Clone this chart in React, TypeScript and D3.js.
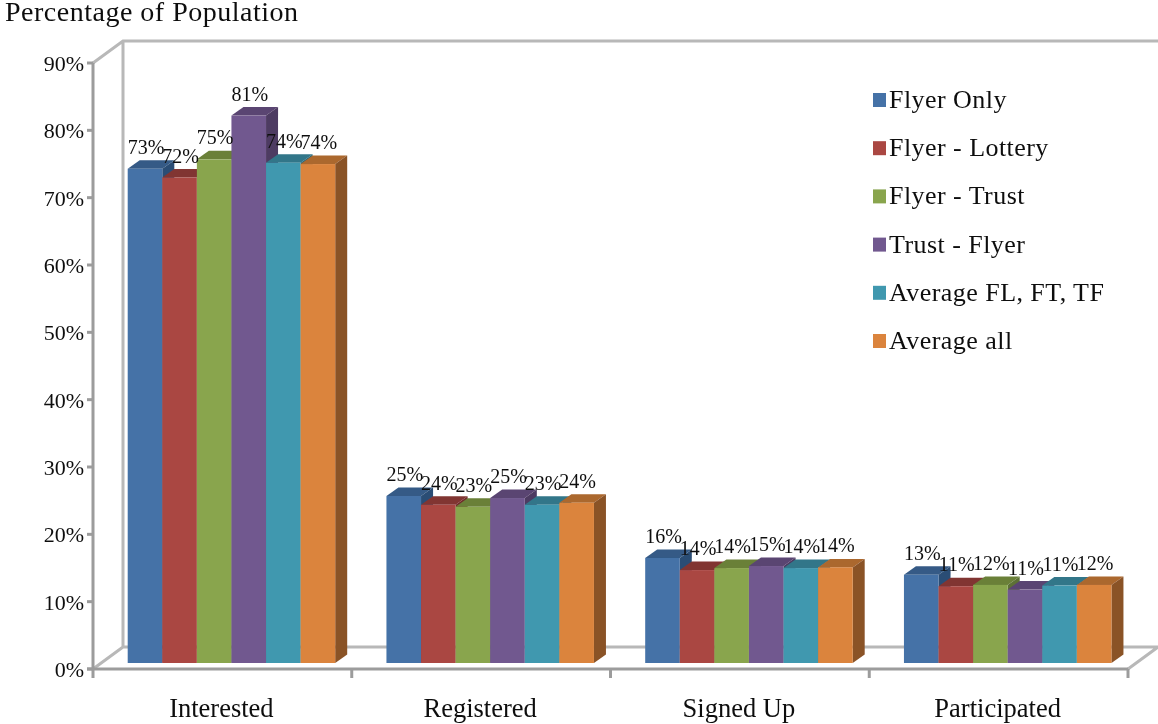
import React, { useRef, useEffect } from 'react';
import * as d3 from 'd3';

const categories = ['Interested', 'Registered', 'Signed Up', 'Participated'];
const seriesNames = ['Flyer Only', 'Flyer - Lottery', 'Flyer - Trust', 'Trust - Flyer', 'Average FL, FT, TF', 'Average all'];

// one row per series, one value per category
const flyerOnly = [73.4, 24.8, 15.6, 13.1];
const flyerLottery = [72.1, 23.5, 13.8, 11.4];
const flyerTrust = [74.8, 23.2, 14.1, 11.6];
const trustFlyer = [81.3, 24.5, 14.4, 10.9];
const averageFlTf = [74.3, 23.5, 14.1, 11.5];
const averageAll = [74.1, 23.8, 14.2, 11.6];
const seriesValues = [flyerOnly, flyerLottery, flyerTrust, trustFlyer, averageFlTf, averageAll];

// labels as printed on the chart
const flyerOnlyLabels = ['73%', '25%', '16%', '13%'];
const flyerLotteryLabels = ['72%', '24%', '14%', '11%'];
const flyerTrustLabels = ['75%', '23%', '14%', '12%'];
const trustFlyerLabels = ['81%', '25%', '15%', '11%'];
const averageFlTfLabels = ['74%', '23%', '14%', '11%'];
const averageAllLabels = ['74%', '24%', '14%', '12%'];
const seriesLabels = [flyerOnlyLabels, flyerLotteryLabels, flyerTrustLabels, trustFlyerLabels, averageFlTfLabels, averageAllLabels];

const yTicks = [0, 10, 20, 30, 40, 50, 60, 70, 80, 90];

const frontColors = ['#4572a7', '#aa4643', '#89a54e', '#71588f', '#4198af', '#db843d'];
const topColors = ['#345a86', '#813533', '#6a8039', '#5a4572', '#317689', '#ab672f'];
const sideColors = ['#2c4d74', '#722c2a', '#5d7134', '#4d3a62', '#296779', '#8a5227'];

const serif = '"Liberation Serif", "Times New Roman", serif';

const App: React.FC = () => {
  const ref = useRef<SVGSVGElement | null>(null);

  useEffect(() => {
    if (!ref.current) return;
    const svg = d3.select(ref.current);
    svg.selectAll('*').remove();

    const left = 93;
    const right = 1128;
    const bottom = 669;
    const top = 63;
    // 3d look: how far the back wall and the bars are pushed
    const wallDx = 30;
    const wallDy = -22;
    const barDx = 12;
    const barDy = -8.5;
    const barBaseShift = -6;

    const y = d3.scaleLinear().domain([0, 90]).range([bottom, top]);
    const x0 = d3.scaleBand<string>().domain(categories).range([left, right]);
    const x1 = d3.scaleBand<number>().domain(d3.range(seriesNames.length)).range([34.7, 242.2]);

    const defs = svg.append('defs');
    defs.append('filter').attr('id', 'soft')
      .append('feGaussianBlur').attr('stdDeviation', 0.5);

    const root = svg.append('g').attr('filter', 'url(#soft)');

    // Back wall and floor
    const wall = root.append('g').attr('fill', 'none').attr('stroke', '#b8b8b8').attr('stroke-width', 3);
    const wallPath = d3.path();
    wallPath.moveTo(left, y(90));
    wallPath.lineTo(left + wallDx, y(90) + wallDy);
    wallPath.lineTo(1158, y(90) + wallDy);
    wallPath.moveTo(left + wallDx, y(90) + wallDy);
    wallPath.lineTo(left + wallDx, bottom + wallDy);
    wallPath.lineTo(right + wallDx, bottom + wallDy);
    wallPath.lineTo(right, bottom);
    wallPath.moveTo(left + wallDx, bottom + wallDy);
    wallPath.lineTo(left, bottom);
    wall.append('path').attr('d', wallPath.toString());

    // Front axes
    const axes = root.append('g').attr('fill', 'none').attr('stroke', '#9c9c9c').attr('stroke-width', 3);
    axes.append('line').attr('x1', left).attr('x2', left).attr('y1', top).attr('y2', bottom + 9);
    axes.append('line').attr('x1', left - 6).attr('x2', right).attr('y1', bottom).attr('y2', bottom);
    axes.selectAll('.ytick').data(yTicks).join('line')
      .attr('x1', left - 6).attr('x2', left).attr('y1', d => y(d)).attr('y2', d => y(d));
    axes.selectAll('.xtick').data(categories).join('line')
      .attr('x1', d => x0(d)! + x0.bandwidth()).attr('x2', d => x0(d)! + x0.bandwidth())
      .attr('y1', bottom).attr('y2', bottom + 9);

    root.selectAll('.ylabel').data(yTicks).join('text')
      .attr('x', 84).attr('y', d => y(d) + 8)
      .attr('text-anchor', 'end')
      .attr('font-family', serif).attr('font-size', 22)
      .attr('fill', '#111')
      .text(d => `${d}%`);

    root.selectAll('.xlabel').data(categories).join('text')
      .attr('x', d => x0(d)! + x0.bandwidth() / 2 - 1)
      .attr('y', 717)
      .attr('text-anchor', 'middle')
      .attr('font-family', serif).attr('font-size', 26.5)
      .attr('fill', '#111')
      .text(d => d);

    // Bars, left to right so each front face covers its neighbour's side
    const bars = root.append('g');
    categories.forEach((cat, c) => {
      seriesNames.forEach((_, s) => {
        const bx = x0(cat)! + x1(s)!;
        const bw = x1.bandwidth();
        const by = y(seriesValues[s][c]) + barBaseShift;
        const base = y(0) + barBaseShift;
        const g = bars.append('g');
        g.append('path')
          .attr('d', `M${bx},${by}l${barDx},${barDy}h${bw}l${-barDx},${-barDy}Z`)
          .attr('fill', topColors[s]);
        g.append('path')
          .attr('d', `M${bx + bw},${by}l${barDx},${barDy}V${base + barDy}l${-barDx},${-barDy}Z`)
          .attr('fill', sideColors[s]);
        g.append('rect')
          .attr('x', bx).attr('y', by).attr('width', bw).attr('height', base - by)
          .attr('fill', frontColors[s]);
      });
    });

    // Data labels sit above everything
    const labels = root.append('g')
      .attr('font-family', serif).attr('font-size', 20)
      .attr('fill', '#111').attr('text-anchor', 'middle');
    categories.forEach((cat, c) => {
      seriesNames.forEach((_, s) => {
        labels.append('text')
          .attr('x', x0(cat)! + x1(s)! + x1.bandwidth() / 2 + 1)
          .attr('y', y(seriesValues[s][c]) + barBaseShift - 15)
          .text(seriesLabels[s][c]);
      });
    });

    // Legend
    const legendY = d3.scalePoint<string>().domain(seriesNames).range([100, 341]);
    const legend = root.append('g');
    legend.selectAll('rect').data(seriesNames).join('rect')
      .attr('x', 873).attr('y', d => legendY(d)! - 7).attr('width', 13).attr('height', 14)
      .attr('fill', (_, i) => frontColors[i]);
    legend.selectAll('text').data(seriesNames).join('text')
      .attr('x', 889).attr('y', d => legendY(d)! + 8)
      .attr('font-family', serif).attr('font-size', 26).attr('letter-spacing', 0.45)
      .attr('fill', '#111')
      .text(d => d);

    root.append('text')
      .attr('x', 5).attr('y', 20.5)
      .attr('font-family', serif).attr('font-size', 28).attr('letter-spacing', 0.5)
      .attr('fill', '#111')
      .text('Percentage of Population');
  }, []);

  return (
    <svg ref={ref} width={1158} height={724} style={{ position: 'absolute', left: 0, top: 0, background: '#fff' }} />
  );
};

export default App;
